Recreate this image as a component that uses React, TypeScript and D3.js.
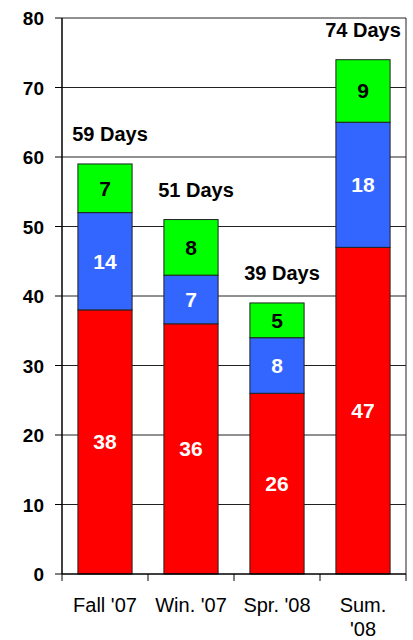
import { useEffect, useRef } from 'react';
import * as d3 from 'd3';

const categories = ["Fall '07", "Win. '07", "Spr. '08", "Sum. '08"];
const redValues = [38, 36, 26, 47];
const blueValues = [14, 7, 8, 18];
const greenValues = [7, 8, 5, 9];
const totalLabels = ['59 Days', '51 Days', '39 Days', '74 Days'];
const yTicks = [0, 10, 20, 30, 40, 50, 60, 70, 80];

const seriesColors = ['#ff0000', '#3366ff', '#00ff00'];
const labelColors = ['#ffffff', '#ffffff', '#000000'];

const App: React.FC = () => {
  const svgRef = useRef<SVGSVGElement>(null);

  useEffect(() => {
    if (!svgRef.current) return;
    const svg = d3.select(svgRef.current);
    svg.selectAll('*').remove();

    const left = 62, right = 406, top = 18, bottom = 574;
    const font = '"Liberation Sans", Arial, sans-serif';

    const x = d3.scaleBand().domain(categories).range([left, right]).paddingInner(0.37).paddingOuter(0.185);
    const y = d3.scaleLinear().domain([0, 80]).range([bottom, top]);

    // grid lines
    svg.append('g').selectAll('line').data(yTicks.slice(1)).enter().append('line')
      .attr('x1', left).attr('x2', right)
      .attr('y1', d => y(d)).attr('y2', d => y(d))
      .attr('stroke', '#222').attr('stroke-width', 1);

    svg.append('line').attr('x1', right).attr('x2', right).attr('y1', top).attr('y2', bottom)
      .attr('stroke', '#222').attr('stroke-width', 1);

    const rows = categories.map((c, i) => ({ cat: c, vals: [redValues[i], blueValues[i], greenValues[i]] }));

    const g = svg.append('g');
    rows.forEach((r, i) => {
      let base = 0;
      r.vals.forEach((v, k) => {
        const y0 = y(base), y1 = y(base + v);
        g.append('rect')
          .attr('x', x(r.cat)!).attr('width', x.bandwidth())
          .attr('y', y1).attr('height', y0 - y1)
          .attr('fill', seriesColors[k]).attr('stroke', '#222').attr('stroke-width', 1);
        g.append('text')
          .attr('x', x(r.cat)! + x.bandwidth() / 2)
          .attr('y', (y0 + y1) / 2 + 7.5)
          .attr('text-anchor', 'middle')
          .style('font-family', font).style('font-weight', 'bold').style('font-size', '21px')
          .attr('fill', labelColors[k])
          .text(v);
        base += v;
      });
      const cx = Math.min(x(r.cat)! + x.bandwidth() / 2 + 5, right - 43);
      g.append('text')
        .attr('x', cx).attr('y', y(base) - 23)
        .attr('text-anchor', 'middle')
        .style('font-family', font).style('font-weight', 'bold').style('font-size', '20px')
        .attr('fill', '#000')
        .text(totalLabels[i]);
    });

    // y axis
    svg.append('line').attr('x1', left).attr('x2', left).attr('y1', top).attr('y2', bottom)
      .attr('stroke', '#000').attr('stroke-width', 1.5);
    const ya = svg.append('g');
    yTicks.forEach(t => {
      ya.append('line').attr('x1', left - 7).attr('x2', left).attr('y1', y(t)).attr('y2', y(t))
        .attr('stroke', '#000').attr('stroke-width', 1);
      ya.append('text').attr('x', 44).attr('y', y(t) + 7).attr('text-anchor', 'end')
        .style('font-family', font).style('font-weight', 'bold').style('font-size', '19px')
        .text(t);
    });

    // x axis
    svg.append('line').attr('x1', left).attr('x2', right).attr('y1', bottom).attr('y2', bottom)
      .attr('stroke', '#000').attr('stroke-width', 1.5);
    const step = x.step();
    d3.range(categories.length + 1).forEach(i => {
      const tx = left + i * step;
      svg.append('line').attr('x1', tx).attr('x2', tx).attr('y1', bottom).attr('y2', bottom + 7)
        .attr('stroke', '#000').attr('stroke-width', 1);
    });
    categories.forEach(c => {
      const cx = x(c)! + x.bandwidth() / 2;
      const parts = c === "Sum. '08" ? ['Sum.', "'08"] : [c];
      parts.forEach((p, j) => {
        svg.append('text').attr('x', cx).attr('y', 612 + j * 24).attr('text-anchor', 'middle')
          .style('font-family', font).style('font-size', '20px').attr('fill', '#000')
          .text(p);
      });
    });
  }, []);

  return (
    <svg ref={svgRef} width={413} height={640}
      style={{ position: 'absolute', left: 0, top: 0, background: '#fff' }} />
  );
};

export default App;
